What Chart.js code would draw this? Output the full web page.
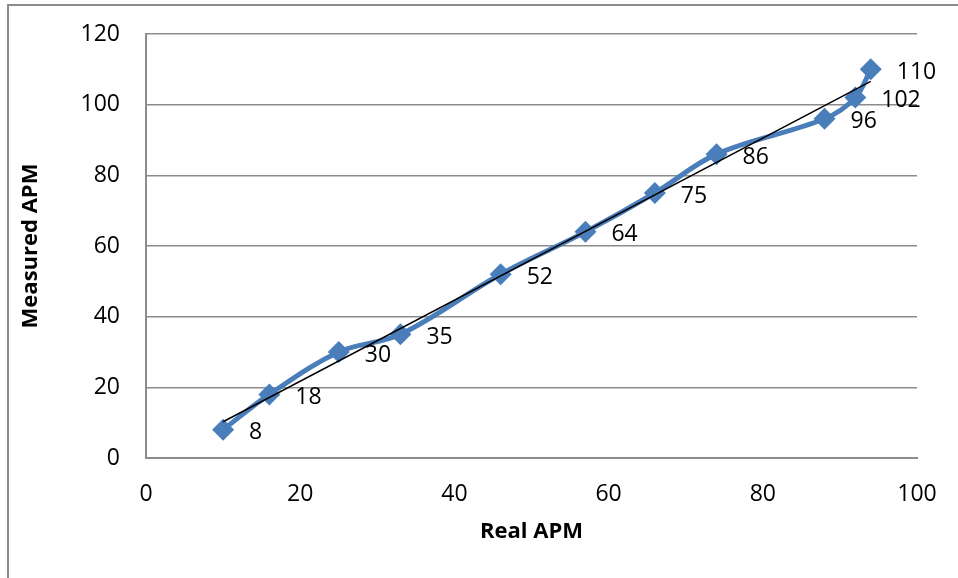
<!DOCTYPE html>
<html>
<head>
<meta charset="utf-8">
<script src="https://cdn.jsdelivr.net/npm/chart.js@4/dist/chart.umd.min.js"></script>
<style>
  html, body { margin: 0; padding: 0; background: #fff; }
  #wrap { position: relative; width: 958px; height: 578px; }
</style>
</head>
<body>
<div id="wrap"><canvas id="c" width="958" height="578"></canvas></div>
<script>
// Real vs. measured actions per minute
const realApm = [10, 16, 25, 33, 46, 57, 66, 74, 88, 92, 94];
const measuredApm = [8, 18, 30, 35, 52, 64, 75, 86, 96, 102, 110];
const xTicks = [0, 20, 40, 60, 80, 100];
const yTicks = [0, 20, 40, 60, 80, 100, 120];

// Least-squares linear trend across the measured range
function linearFit(xs, ys) {
  const n = xs.length;
  const mx = xs.reduce((a, b) => a + b, 0) / n;
  const my = ys.reduce((a, b) => a + b, 0) / n;
  let sxy = 0, sxx = 0;
  for (let i = 0; i < n; i++) {
    sxy += (xs[i] - mx) * (ys[i] - my);
    sxx += (xs[i] - mx) * (xs[i] - mx);
  }
  const slope = sxy / sxx;
  return { slope, intercept: my - slope * mx };
}
const fit = linearFit(realApm, measuredApm);
const xMin = Math.min(...realApm), xMax = Math.max(...realApm);
const trendPoints = [
  { x: xMin, y: fit.intercept + fit.slope * xMin },
  { x: xMax, y: fit.intercept + fit.slope * xMax }
];
const points = realApm.map((x, i) => ({ x, y: measuredApm[i] }));

const FONT = '"Open Sans", "DejaVu Sans", sans-serif';

// Outer chart frame (left and top edges)
const framePlugin = {
  id: 'frame',
  beforeDraw(chart) {
    const ctx = chart.ctx;
    ctx.save();
    ctx.strokeStyle = '#8c8c8c';
    ctx.lineWidth = 2;
    ctx.beginPath();
    ctx.moveTo(8, 578);
    ctx.lineTo(8, 5);
    ctx.lineTo(958, 5);
    ctx.stroke();
    ctx.restore();
  }
};

// Value labels to the right of each marker
const valueLabels = {
  id: 'valueLabels',
  afterDatasetsDraw(chart) {
    const meta = chart.getDatasetMeta(1);
    const ctx = chart.ctx;
    ctx.save();
    ctx.font = '23px ' + FONT;
    ctx.fillStyle = '#000';
    ctx.textAlign = 'left';
    ctx.textBaseline = 'middle';
    meta.data.forEach((el, i) => {
      ctx.fillText(String(measuredApm[i]), el.x + 26, el.y + 3);
    });
    ctx.restore();
  }
};

new Chart(document.getElementById('c'), {
  type: 'scatter',
  data: {
    datasets: [
      {
        label: 'Linear trend',
        type: 'line',
        data: trendPoints,
        borderColor: '#000',
        borderWidth: 1.5,
        pointRadius: 0,
        tension: 0,
        fill: false,
        order: 0
      },
      {
        label: 'Measured APM',
        type: 'line',
        data: points,
        borderColor: '#4a7ebb',
        backgroundColor: '#4a7ebb',
        borderWidth: 5,
        pointStyle: 'rectRot',
        pointRadius: 11,
        pointBorderWidth: 0,
        tension: 0.35,
        fill: false,
        order: 1
      }
    ]
  },
  options: {
    responsive: false,
    animation: false,
    events: [],
    layout: { padding: { left: 8, right: 41, top: 34, bottom: 20 } },
    plugins: {
      legend: { display: false },
      tooltip: { enabled: false }
    },
    scales: {
      x: {
        type: 'linear',
        min: 0,
        max: 100,
        afterBuildTicks(scale) { scale.ticks = xTicks.map(v => ({ value: v })); },
        afterFit(scale) {
          scale.height = 100;
          scale.paddingLeft = 0; scale.paddingRight = 0;
          scale.paddingTop = 0; scale.paddingBottom = 0;
        },
        grid: { display: false, drawTicks: false },
        border: { display: true, color: '#8c8c8c', width: 2 },
        ticks: { color: '#000', font: { family: FONT, size: 23 }, padding: 23, maxRotation: 0 },
        title: {
          display: true,
          text: 'Real APM',
          color: '#000',
          font: { family: FONT, size: 22, weight: 'bold' },
          padding: { top: 0, bottom: 13 }
        }
      },
      y: {
        type: 'linear',
        min: 0,
        max: 120,
        afterBuildTicks(scale) { scale.ticks = yTicks.map(v => ({ value: v })); },
        afterFit(scale) {
          scale.width = 138;
          scale.paddingLeft = 0; scale.paddingRight = 0;
          scale.paddingTop = 0; scale.paddingBottom = 0;
        },
        grid: { color: '#8c8c8c', lineWidth: 1.5, drawTicks: false },
        border: { display: true, color: '#8c8c8c', width: 2 },
        ticks: { color: '#000', font: { family: FONT, size: 23 }, padding: 26 },
        title: {
          display: true,
          text: 'Measured APM',
          color: '#000',
          font: { family: FONT, size: 22, weight: 'bold' },
          padding: { top: 10, bottom: 0 }
        }
      }
    }
  },
  plugins: [framePlugin, valueLabels]
});
</script>
</body>
</html>
